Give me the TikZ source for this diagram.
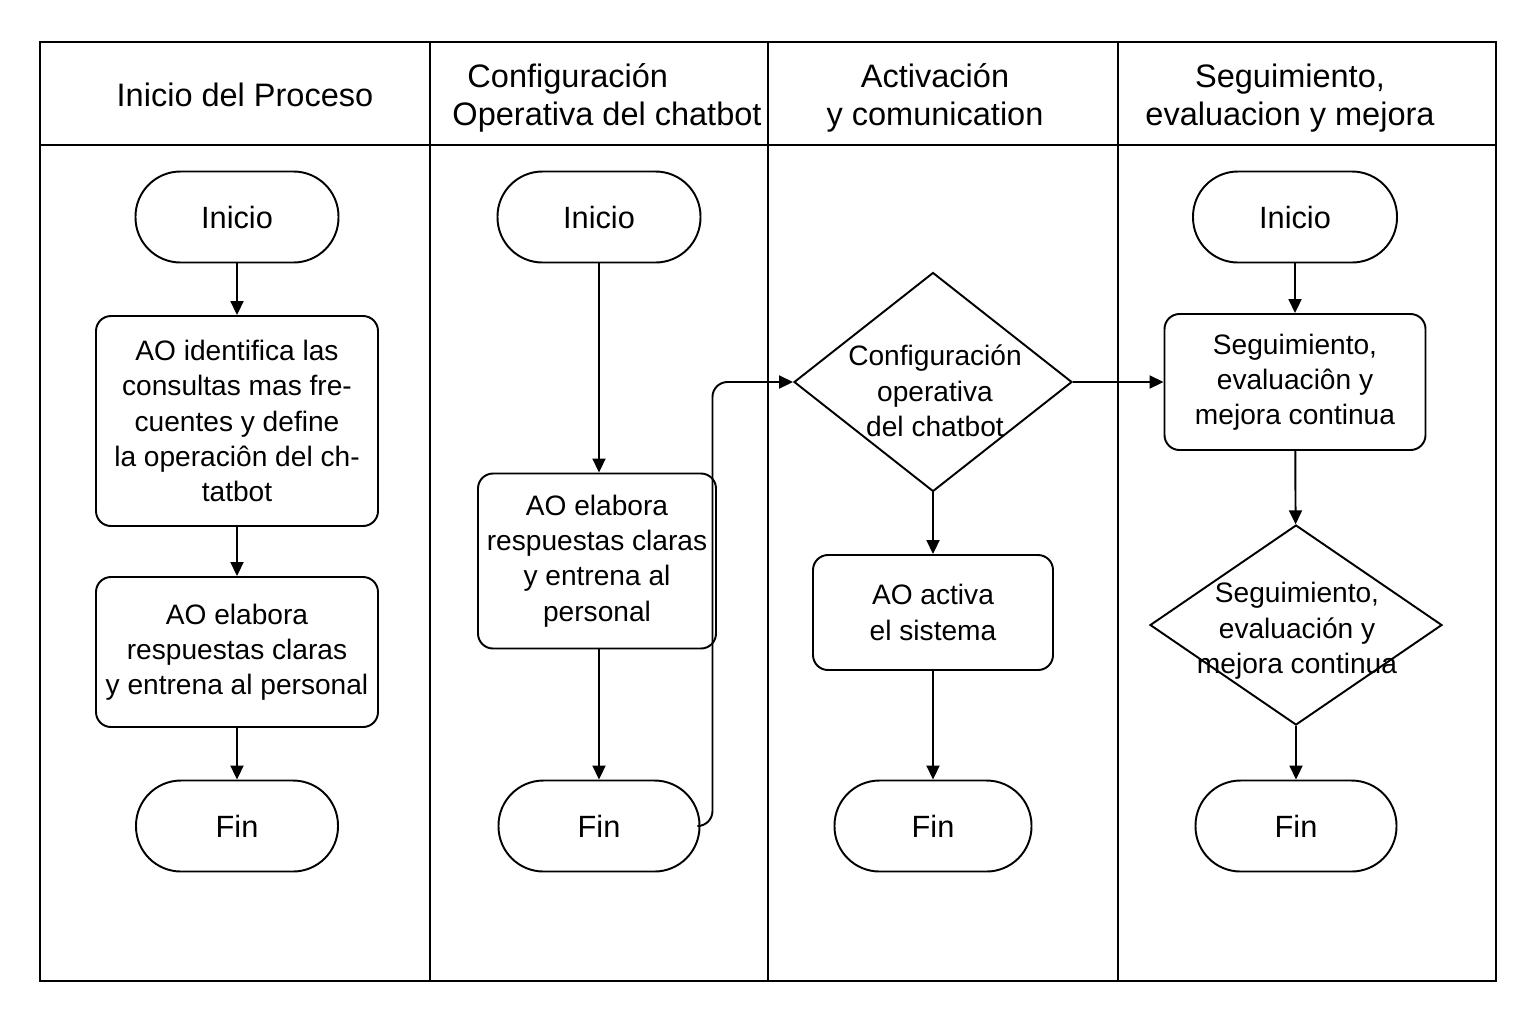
\documentclass[tikz,border=0pt]{standalone}
\usepackage{fontspec}
\setmainfont{Liberation Sans}
\usepackage{tikz}
\usetikzlibrary{arrows.meta,shapes.geometric}

\begin{document}
\begin{tikzpicture}[
      lane/.style={line width=1.1pt},
      hdr/.style={font=\fontsize{18.5}{21.6}\selectfont,align=center},
      term/.style={draw,line width=1.1pt,rounded corners=0.9cm,
                   minimum height=1.82cm,inner sep=0pt,
                   font=\fontsize{17.5}{20}\selectfont},
      box/.style={draw,line width=1.1pt,rounded corners=0.3cm,
                  inner sep=0pt,align=center,
                  font=\fontsize{16}{20}\selectfont},
      dec/.style={draw,diamond,line width=1.1pt,inner sep=0pt},
      dtxt/.style={align=center,inner sep=0pt,
                   font=\fontsize{16}{20.3}\selectfont},
      arr/.style={-{Triangle[length=2.8mm,width=2.6mm]},line width=1.1pt}]
    \useasboundingbox (0,0) rectangle (30.72,-20.48);
    % lanes
    \draw[lane] (0.8,-0.84) rectangle (29.92,-19.62);
    \draw[lane] (0.8,-2.9) -- (29.92,-2.9);
    \foreach \x in {8.6,15.36,22.36}
      \draw[lane] (\x,-0.84) -- (\x,-19.62);
    \node[hdr] (h1) at (4.9,-1.9) {Inicio del Proceso};
    \node[hdr,align=left] (h2) at (12.14,-1.96) {\hspace{0.3cm}Configuración\\Operativa del chatbot};
    \node[hdr] (h3) at (18.7,-1.96) {Activación\\y comunication};
    \node[hdr] (h4) at (25.8,-1.96) {Seguimiento,\\evaluacion y mejora};

    % lane 1
    \node[term,minimum width=4.06cm] (ini1) at (4.74,-4.34) {Inicio};
    \node[box,minimum width=5.64cm,minimum height=4.2cm] (ident) at (4.74,-8.42)
      {AO identifica las\\consultas mas fre-\\cuentes y define\\la operaciôn del ch-\\tatbot};
    \node[box,minimum width=5.64cm,minimum height=3cm] (resp1) at (4.74,-13.04)
      {AO elabora\\respuestas claras\\y entrena al personal};
    \node[term,minimum width=4.04cm] (fin1) at (4.74,-16.52) {Fin};
    \draw[arr] (ini1) -- (ident);
    \draw[arr] (ident) -- (resp1);
    \draw[arr] (resp1) -- (fin1);

    % lane 2
    \node[term,minimum width=4.06cm] (ini2) at (11.98,-4.34) {Inicio};
    \node[box,minimum width=4.76cm,minimum height=3.5cm] (resp2) at (11.94,-11.22)
      {AO elabora\\respuestas claras\\y entrena al\\personal};
    \node[term,minimum width=4.02cm] (fin2) at (11.98,-16.52) {Fin};
    \draw[arr] (ini2) -- (ini2 |- resp2.north);
    \draw[arr] (resp2.south -| fin2) -- (fin2);

    % lane 3
    \node[dec,minimum width=5.56cm,minimum height=4.38cm] (conf) at (18.66,-7.64) {};
    \node[dtxt] (conft) at (18.7,-7.82) {Configuración\\operativa\\del chatbot};
    \node[box,minimum width=4.8cm,minimum height=2.3cm] (activ) at (18.66,-12.25)
      {AO activa\\el sistema};
    \node[term,minimum width=3.94cm] (fin3) at (18.66,-16.52) {Fin};
    \draw[arr,rounded corners=0.3cm] (fin2.east) -- ++(0.24,0) |- (conf.west);
    \draw[arr] (conf) -- (activ);
    \draw[arr] (activ) -- (fin3);

    % lane 4
    \node[term,minimum width=4.08cm] (ini4) at (25.9,-4.34) {Inicio};
    \node[box,minimum width=5.22cm,minimum height=2.72cm] (segbox) at (25.9,-7.64)
      {Seguimiento,\\evaluaciôn y\\mejora continua};
    \node[dec,minimum width=5.84cm,minimum height=4cm] (segdec) at (25.92,-12.5) {};
    \node[dtxt] (segt) at (25.94,-12.62) {Seguimiento,\\evaluación y\\mejora continua};
    \node[term,minimum width=4.02cm] (fin4) at (25.92,-16.52) {Fin};
    \draw[arr] (conf.east) -- (segbox.west);
    \draw[arr] (ini4) -- (segbox);
    \draw[arr] (segbox) -- (segdec);
    \draw[arr] (segdec) -- (fin4);
  \end{tikzpicture}
\end{document}
